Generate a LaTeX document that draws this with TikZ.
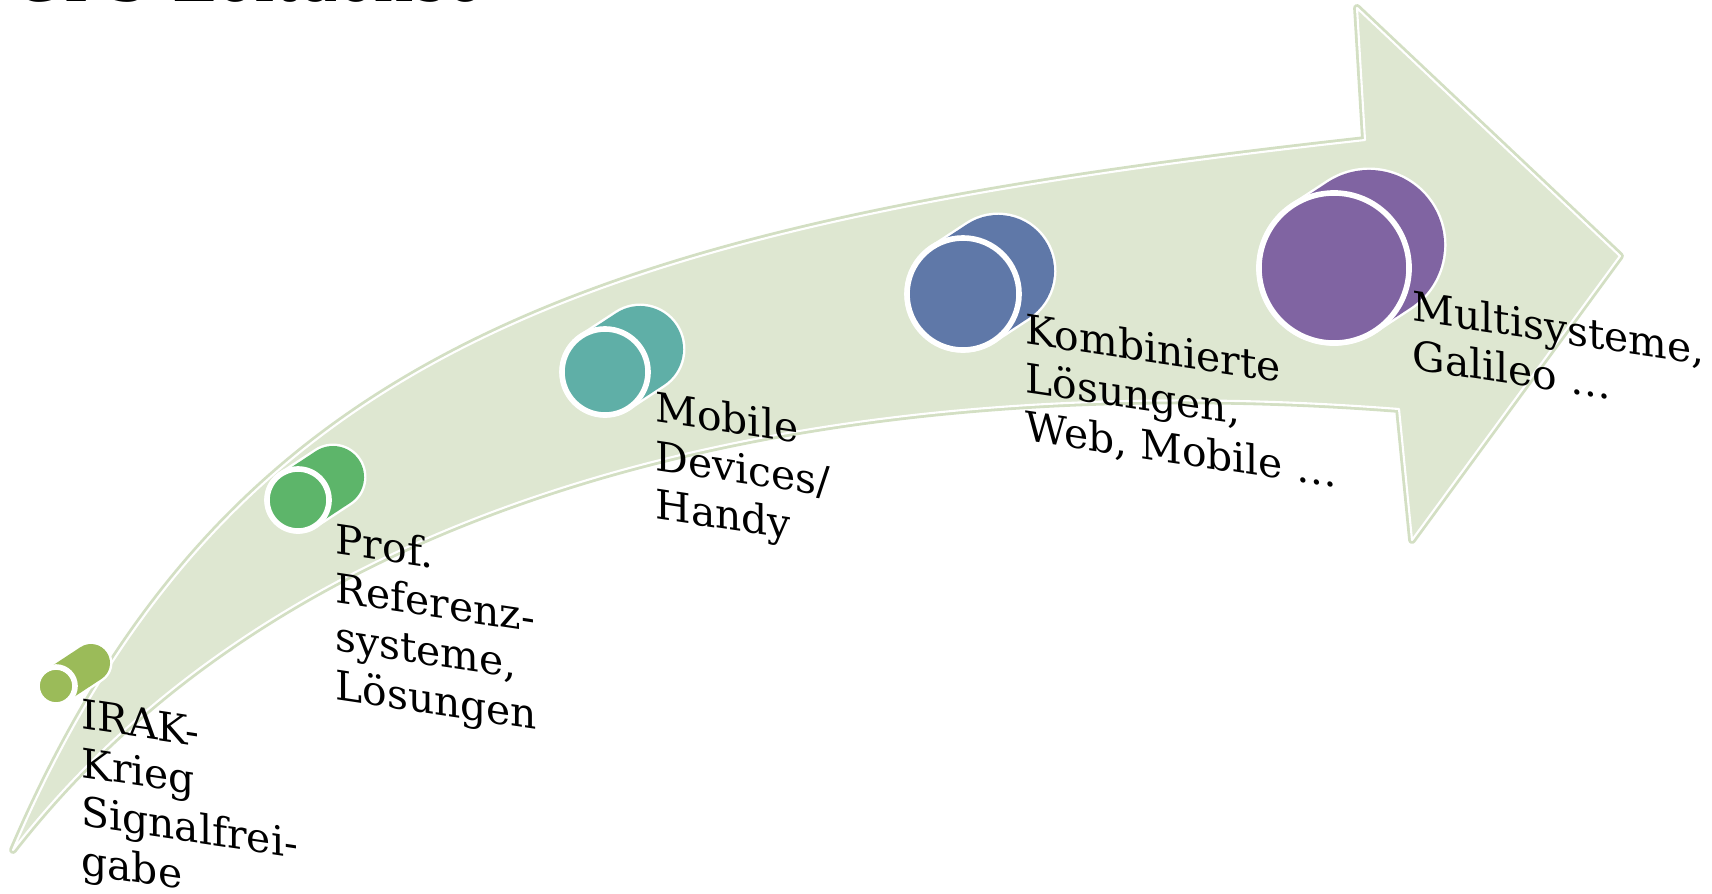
\documentclass[tikz,border=0pt]{standalone}
\usepackage{fontspec}
\setmainfont{DejaVu Serif}
\usetikzlibrary{positioning}
\usetikzlibrary{calc}

\definecolor{bandgreen}{HTML}{DEE7D1}
\definecolor{bandedge}{HTML}{D3DFC3}
\definecolor{disc1}{HTML}{9BBB59}
\definecolor{disc2}{HTML}{5DB56A}
\definecolor{disc3}{HTML}{5FAFA7}
\definecolor{disc4}{HTML}{5F78A8}
\definecolor{disc5}{HTML}{8064A2}

\begin{document}
\begin{tikzpicture}[x=0.01cm,y=-0.01cm,
            disc node/.style={circle,draw=white,line width=1.6pt,inner sep=0pt},
            body line/.style={draw=white,line width=0.7pt,double=#1,line cap=round},
            label node/.style={yslant=-0.15,align=left,inner sep=0pt,
                               font=\fontsize{11.6}{13.8}\selectfont}
            ]
            \useasboundingbox (0,0) rectangle (1712,893);

            % title, cut off at the top
            \node[anchor=base west,inner sep=0pt,font=\fontsize{18}{20}\selectfont](title) at (12,1){GPS-Zeitachse};

            % the curved arrow
            \path[fill=bandgreen,draw=white,line width=0.6pt,line join=round,
                  preaction={draw=bandedge,line width=2.2pt,line join=round}]
            (13,850) .. controls (230,345) and (600,225) .. (1365,140)
            -- (1357,8) -- (1620,256) -- (1412,540) -- (1399,409)
            .. controls (900,370) and (320,455) .. (13,850)
            -- cycle;

            \coordinate (f1) at (56,686);
            \coordinate (b1) at ($(f1)+(35,-23)$);
            \coordinate (f2) at (298,500);
            \coordinate (b2) at ($(f2)+(35,-23)$);
            \coordinate (f3) at (605,372);
            \coordinate (b3) at ($(f3)+(35,-23)$);
            \coordinate (f4) at (963,294);
            \coordinate (b4) at ($(f4)+(35,-23)$);
            \coordinate (f5) at (1334,268);
            \coordinate (b5) at ($(f5)+(35,-23)$);

            \draw[body line=disc1,double distance=0.38cm] (f1) -- (b1);
            \draw[body line=disc2,double distance=0.62cm] (f2) -- (b2);
            \draw[body line=disc3,double distance=0.86cm] (f3) -- (b3);
            \draw[body line=disc4,double distance=1.12cm] (f4) -- (b4);
            \draw[body line=disc5,double distance=1.5cm] (f5) -- (b5);

            \node[disc node,fill=disc1,minimum size=0.38cm](d1) at (f1){};
            \node[disc node,fill=disc2,minimum size=0.62cm](d2) at (f2){};
            \node[disc node,fill=disc3,minimum size=0.86cm](d3) at (f3){};
            \node[disc node,fill=disc4,minimum size=1.12cm](d4) at (f4){};
            \node[disc node,fill=disc5,minimum size=1.5cm](d5) at (f5){};

            \node[label node,below right=0.12cm and 0.03cm of d1.east](l1){IRAK-\\Krieg\\Signalfrei-\\gabe};
            \node[label node,below right=0.22cm and 0.03cm of d2.east](l2){Prof.\\Referenz-\\systeme,\\Lösungen};
            \node[label node,below right=0.18cm and 0.04cm of d3.east](l3){Mobile\\Devices/\\Handy};
            \node[label node,below right=0.18cm and 0.03cm of d4.east](l4){Kombinierte\\Lösungen,\\Web, Mobile \dots};
            \node[label node,below right=0.21cm and 0.0cm of d5.east](l5){Multisysteme,\\Galileo \dots};

        \end{tikzpicture}
\end{document}
